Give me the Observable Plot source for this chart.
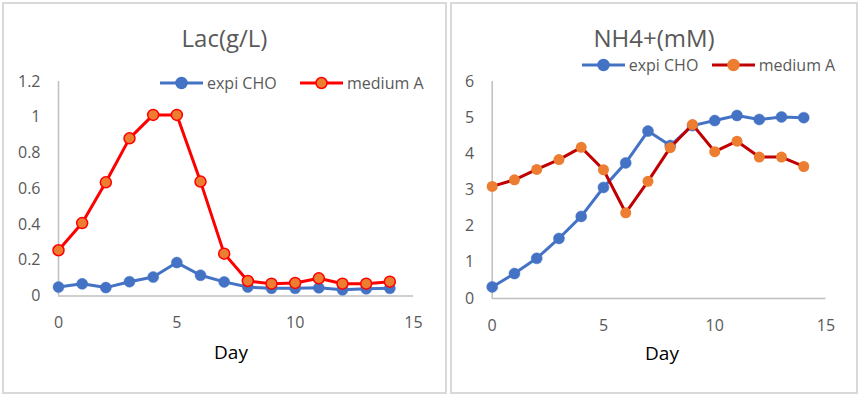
<!DOCTYPE html>
<html><head><meta charset="utf-8">
<script src="https://cdn.jsdelivr.net/npm/d3@7"></script>
<script src="https://cdn.jsdelivr.net/npm/@observablehq/plot@0.6"></script>
<style>
body{margin:0;background:#fff;font-family:"Open Sans",sans-serif;}
#page{position:relative;width:860px;height:398px;overflow:hidden;background:#fff;}
.panel{position:absolute;border:2px solid #D9D9D9;box-sizing:border-box;pointer-events:none;}
.plot{position:absolute;top:0;}
.title{position:absolute;transform:translate(-50%,-50%);font-size:24px;color:#595959;white-space:nowrap;line-height:1;}
.xlabel{position:absolute;transform:translate(-50%,-50%);font-size:19px;color:#000;white-space:nowrap;line-height:1;}
.legend{position:absolute;display:flex;align-items:center;font-size:16px;color:#595959;transform:translateY(-50%);white-space:nowrap;line-height:1;}
.legend svg{display:block;margin-right:4px;}
</style>
</head><body>
<div id="page"></div>
<script>
// ---- data ----
const days = [0,1,2,3,4,5,6,7,8,9,10,11,12,13,14];
const seriesNames = ["expi CHO", "medium A"];
const lacExpi   = [0.05, 0.068, 0.047, 0.08, 0.106, 0.187, 0.116, 0.079, 0.05, 0.043, 0.043, 0.046, 0.035, 0.04, 0.043];
const lacMedium = [0.256, 0.408, 0.636, 0.882, 1.013, 1.013, 0.64, 0.237, 0.084, 0.069, 0.073, 0.099, 0.069, 0.069, 0.08];
const nh4Expi   = [0.32, 0.69, 1.11, 1.66, 2.27, 3.07, 3.75, 4.63, 4.23, 4.78, 4.92, 5.06, 4.95, 5.02, 5.0];
const nh4Medium = [3.10, 3.28, 3.57, 3.84, 4.18, 3.56, 2.37, 3.24, 4.17, 4.81, 4.06, 4.35, 3.91, 3.91, 3.65];
const xTicks = [0, 5, 10, 15];
const lacTicks = [0, 0.2, 0.4, 0.6, 0.8, 1, 1.2];
const nh4Ticks = [0, 1, 2, 3, 4, 5, 6];
const titles = ["Lac(g/L)", "NH4+(mM)"];
const xLabel = "Day";

const BLUE = "#4472C4", ORANGE = "#ED7D31", RED = "#FF0000", DARKRED = "#C00000";
const page = document.getElementById("page");
const fmt = d => String(+d.toFixed(2));

function toRows(vals){ return days.map((d,i)=>({day:d, v:vals[i]})); }

function chart(o){
  const e = toRows(o.expi), m = toRows(o.medium);
  const svg = Plot.plot({
    width:o.w, height:398,
    marginLeft:o.ml, marginRight:o.mr, marginTop:o.mt, marginBottom:o.mb,
    style:{fontFamily:"'Open Sans', sans-serif", fontSize:"16px", color:"#595959", background:"transparent", overflow:"visible"},
    x:{domain:[0,15], ticks:xTicks, tickSize:0, tickPadding:21, tickFormat:fmt, label:null},
    y:{domain:o.yDomain, ticks:o.yTicks, tickSize:0, tickPadding:18, tickFormat:fmt, label:null},
    marks:[
      Plot.ruleY([0], {stroke:"#BFBFBF", strokeWidth:1.5}),
      Plot.ruleX([0], {stroke:"#BFBFBF", strokeWidth:1.5}),
      Plot.line(e, {x:"day", y:"v", stroke:BLUE, strokeWidth:3}),
      Plot.dot(e, {x:"day", y:"v", r:5.5, fill:BLUE, stroke:BLUE, strokeWidth:0.5}),
      Plot.line(m, {x:"day", y:"v", stroke:o.medLine, strokeWidth:3}),
      Plot.dot(m, {x:"day", y:"v", r:5.5, fill:ORANGE, stroke:o.medStroke, strokeWidth:o.medStrokeW})
    ]
  });
  svg.classList.add("plot");
  svg.style.left = o.left + "px";
  page.appendChild(svg);
}

function addDiv(cls, text, x, y){
  const d = document.createElement("div");
  d.className = cls; d.textContent = text;
  d.style.left = x + "px"; d.style.top = y + "px";
  page.appendChild(d);
}
function addLegend(name, x, y, lineColor, dotFill, dotStroke){
  const d = document.createElement("div");
  d.className = "legend";
  d.style.left = x + "px"; d.style.top = y + "px";
  d.innerHTML = `<svg width="43" height="14"><line x1="0" x2="43" y1="7" y2="7" stroke="${lineColor}" stroke-width="3"/><circle cx="21.5" cy="7" r="5.5" fill="${dotFill}" stroke="${dotStroke}" stroke-width="1.5"/></svg><span>${name}</span>`;
  page.appendChild(d);
}
function addPanel(x, y, w, h){
  const d = document.createElement("div");
  d.className = "panel";
  Object.assign(d.style, {left:x+"px", top:y+"px", width:w+"px", height:h+"px"});
  page.appendChild(d);
}

chart({left:0, w:448, ml:58, mr:35, mt:81, mb:102.5, yDomain:[0,1.2], yTicks:lacTicks,
  expi:lacExpi, medium:lacMedium, medLine:RED, medStroke:RED, medStrokeW:1.5});
chart({left:448, w:412, ml:43.7, mr:34.5, mt:81, mb:100, yDomain:[0,6], yTicks:nh4Ticks,
  expi:nh4Expi, medium:nh4Medium, medLine:DARKRED, medStroke:ORANGE, medStrokeW:0});

addPanel(2, 2, 445, 392);
addPanel(450, 2, 408, 392);

addDiv("title", titles[0], 224.5, 38);
addDiv("title", titles[1], 654, 38);
addDiv("xlabel", xLabel, 231, 352);
addDiv("xlabel", xLabel, 662, 353);

addLegend(seriesNames[0], 160, 83.3, BLUE, BLUE, BLUE);
addLegend(seriesNames[1], 300, 83.3, RED, ORANGE, RED);
addLegend(seriesNames[0], 581.7, 65.3, BLUE, BLUE, BLUE);
addLegend(seriesNames[1], 711.7, 65.3, DARKRED, ORANGE, ORANGE);
</script>
</body></html>
